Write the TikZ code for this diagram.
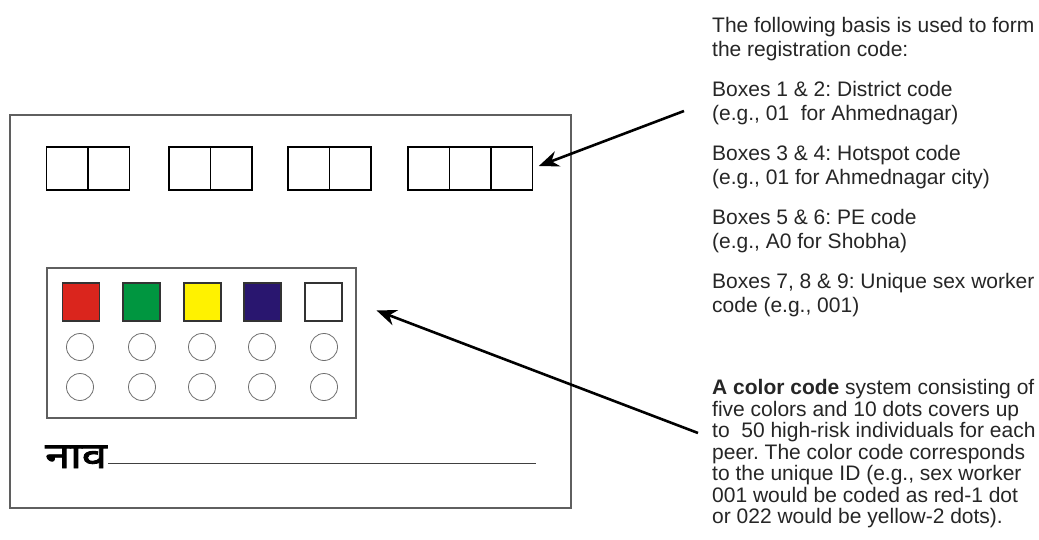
\documentclass[tikz,border=0pt]{standalone}
\usepackage{fontspec}
\setmainfont{Liberation Sans}
\newfontfamily\devfont[Script=Devanagari,FakeBold=2.5,FakeStretch=1.25]{Noto Sans}
\usetikzlibrary{arrows.meta,calc}
\definecolor{codered}{RGB}{218,37,29}
\definecolor{codegreen}{RGB}{0,150,64}
\definecolor{codeyellow}{RGB}{255,242,0}
\definecolor{codeblue}{RGB}{41,22,111}
\definecolor{framegray}{RGB}{95,95,95}
\definecolor{dotgray}{RGB}{110,110,110}
\tikzset{
  cell/.style={draw=black, line width=1.2pt, minimum width=41.5pt, minimum height=43pt, inner sep=0pt},
  swatch/.style={draw=black!80, line width=1.2pt, minimum width=37pt, minimum height=38pt, inner sep=0pt},
  dot/.style={circle, draw=dotgray, line width=0.8pt, minimum size=27pt, inner sep=0pt},
  note/.style={anchor=base west, inner sep=0pt, align=left, font=\fontsize{21}{24}\selectfont\frenchspacing, text=black!85},
  longnote/.style={note, font=\fontsize{21}{21.5}\selectfont\frenchspacing},
  pointer/.style={line width=2.6pt, -{Stealth[length=20pt,width=16pt]}},
}
\begin{document}
\begin{tikzpicture}[x=1pt,y=-1pt]
\useasboundingbox (0,0) rectangle (1039,540);
\fill[white] (0,0) rectangle (1039,540);

% card outline and colour panel
\node[draw=framegray, line width=1.1pt, minimum width=561pt, minimum height=393pt, inner sep=0pt] (card) at (290.5,311.5) {};
\node[draw=framegray, line width=1.1pt, minimum width=309pt, minimum height=150pt, inner sep=0pt] (panel) at (201.5,343) {};

% registration code boxes
\node[cell] (c1) at (67.25,168.5) {};
\node[cell] (c2) at (108.75,168.5) {};
\node[cell] (c3) at (189.75,168.5) {};
\node[cell] (c4) at (231.25,168.5) {};
\node[cell] (c5) at (308.75,168.5) {};
\node[cell] (c6) at (350.25,168.5) {};
\node[cell] (c7) at (428.75,168.5) {};
\node[cell] (c8) at (470.25,168.5) {};
\node[cell] (c9) at (511.5,168.5) {};

% colour swatches
\node[swatch, fill=codered]    (s1) at (81,302) {};
\node[swatch, fill=codegreen]  (s2) at (141.5,302) {};
\node[swatch, fill=codeyellow] (s3) at (202.5,302) {};
\node[swatch, fill=codeblue]   (s4) at (262.5,302) {};
\node[swatch, fill=white]      (s5) at (323.5,302) {};

% dots
\foreach \i/\x in {1/80,2/142,3/202,4/262,5/324}{
  \node[dot] (da\i) at (\x,347) {};
  \node[dot] (db\i) at (\x,387) {};
}

% name line
\node[anchor=base west, inner sep=0pt, font=\devfont\fontsize{36}{40}\selectfont, text=black] (naav) at (45,468) {नाव};
\coordinate (lineend) at (536,463);
\draw[line width=1pt, black!75] ([xshift=1pt]naav.base east |- lineend) -- (lineend);

% explanatory notes (each node is placed by the baseline of its last line)
\node[note] (p1) at (712,57) {The following basis is used to form\\the registration code:};
\node[note] (p2) at (712,121) {Boxes 1 \& 2: District code\\(e.g., 01\ \ for Ahmednagar)};
\node[note] (p3) at (712,185) {Boxes 3 \& 4: Hotspot code\\(e.g., 01 for Ahmednagar city)};
\node[note] (p4) at (712,248.5) {Boxes 5 \& 6: PE code\\(e.g., A0 for Shobha)};
\node[note] (p5) at (712,312.5) {Boxes 7, 8 \& 9: Unique sex worker\\code (e.g., 001)};
\node[longnote] (cc) at (712,523.5) {\textbf{A color code} system consisting of\\five colors and 10 dots covers up\\to\ \ 50 high-risk individuals for each\\peer. The color code corresponds\\to the unique ID (e.g., sex worker\\001 would be coded as red-1 dot\\or 022 would be yellow-2 dots).};

% pointers
\coordinate (tail1) at (684,111);
\coordinate (tip1) at ($(c9.east)+(6,-2.5)$);
\coordinate (tail2) at (698,433);
\coordinate (tip2) at ($(panel.north east)+(20,43)$);
\draw[pointer] (tail1) -- (tip1);
\draw[pointer] (tail2) -- (tip2);
\end{tikzpicture}
\end{document}
